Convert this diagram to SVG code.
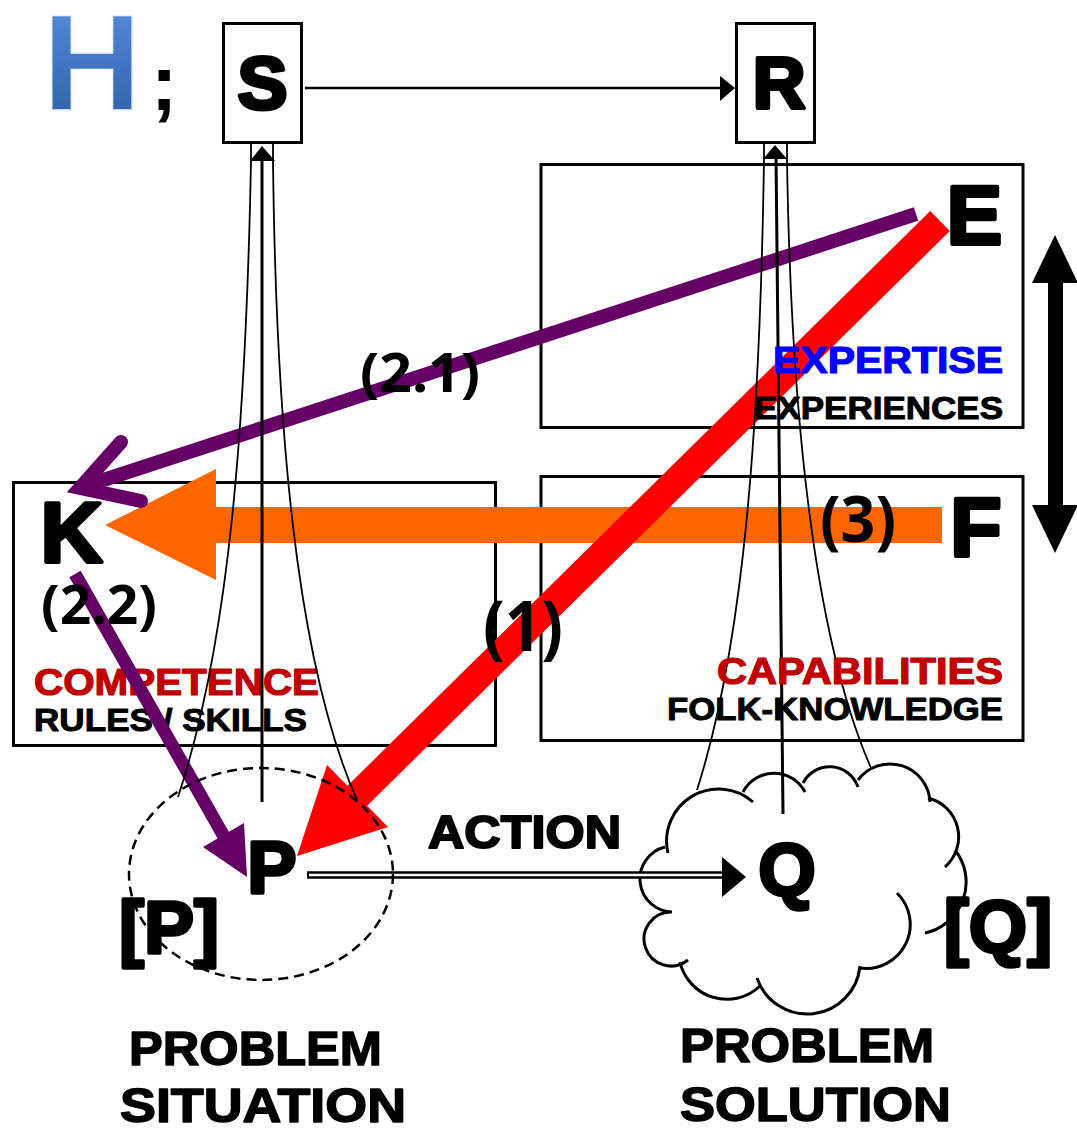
<svg xmlns="http://www.w3.org/2000/svg" width="1077" height="1130" viewBox="0 0 1077 1130">
<defs>
<linearGradient id="hg" x1="0" y1="0" x2="0" y2="1">
<stop offset="0" stop-color="#5b90dd"/>
<stop offset="1" stop-color="#2a5ca6"/>
</linearGradient>
<style>
.box{fill:none;stroke:#000;stroke-width:3}
.big{font-family:"Liberation Sans",Arial,sans-serif;font-weight:bold;fill:#000;stroke:#000;stroke-linejoin:round;text-anchor:middle}
.lbl{font-family:"Liberation Sans",Arial,sans-serif;font-weight:bold;stroke-linejoin:round}
.num{font-family:"Open Sans","Noto Sans",sans-serif;font-weight:bold;fill:#000}
.thin{fill:none;stroke:#000;stroke-width:1.8}
.mid{fill:none;stroke:#000;stroke-width:3}
</style>
</defs>
<rect width="1077" height="1130" fill="#fff"/>

<g id="title">
<text x="92" y="110" font-family="Liberation Sans,Arial,sans-serif" font-weight="bold" font-size="137" fill="url(#hg)" stroke="#eef2fa" stroke-width="1.5" text-anchor="middle">H</text>
<text x="164" y="110" font-family="Liberation Sans,Arial,sans-serif" font-weight="bold" font-size="80" fill="#000" text-anchor="middle">;</text>
</g>

<g id="node-K">
<rect class="box" x="13.5" y="482.5" width="482" height="263"/>
<text class="lbl" x="34" y="695" font-size="37" fill="#c00000" stroke="#c00000" stroke-width="1.2" textLength="285" lengthAdjust="spacingAndGlyphs">COMPETENCE</text>
<text class="lbl" x="34" y="731" font-size="32" fill="#000" stroke="#000" stroke-width="1" textLength="273" lengthAdjust="spacingAndGlyphs">RULES / SKILLS</text>
</g>
<g id="node-E">
<rect class="box" x="541" y="164.5" width="482" height="263"/>
</g>
<g id="node-F">
<rect class="box" x="541" y="476.5" width="482" height="264"/>
</g>

<g id="node-Q-cloud">
<path fill="#fff" stroke="none" d="M668,853 A52,52 0 0 1 753,802 L743,792 A35,35 0 0 1 805,792 L803,783 A30,30 0 0 1 858,787 L858,780 A40,40 0 0 1 930,802 L928,798 A40,40 0 0 1 945,867 L955,850 A52,52 0 0 1 925,933 L897,893 A44,44 0 0 1 860,968 L860,966 A53,53 0 0 1 757,978 L760,986 A48,48 0 0 1 680,962 L688,960 A27,27 0 1 1 672,912 L672,912 A33,33 0 0 1 665,847 Z"/>
<path fill="none" stroke="#000" stroke-width="3" d="M668,853 A52,52 0 0 1 753,802 M743,792 A35,35 0 0 1 805,792 M803,783 A30,30 0 0 1 858,787 M858,780 A40,40 0 0 1 930,802 M928,798 A40,40 0 0 1 945,867 M955,850 A52,52 0 0 1 925,933 M897,893 A44,44 0 0 1 860,968 M860,966 A53,53 0 0 1 757,978 M760,986 A48,48 0 0 1 680,962 M688,960 A27,27 0 1 1 672,912 M672,912 A33,33 0 0 1 665,847"/>
</g>

<g id="connectors">
<!-- (3) orange -->
<rect x="210" y="507" width="732" height="36" fill="#ff6600"/>
<polygon points="216,469 216,580 105,525" fill="#ff6600"/>
<!-- (1) red -->
<line x1="940" y1="221" x2="352" y2="801" stroke="#ff0000" stroke-width="28"/>
<polygon points="327,765 388,827 297,856" fill="#ff0000"/>
<!-- (2.1) purple -->
<line x1="916" y1="214" x2="82" y2="487" stroke="#660066" stroke-width="14"/>
<polyline points="121,442 80,488 141,501" fill="none" stroke="#660066" stroke-width="14" stroke-linecap="round" stroke-linejoin="miter"/>
<!-- (2.2) purple -->
<line x1="75" y1="574" x2="226" y2="840" stroke="#660066" stroke-width="13"/>
<polygon points="203,847 244,823 247,877" fill="#660066"/>
<!-- S lines -->
<path class="thin" d="M251,144 L251,161 C246,420 230,640 178,797"/>
<path class="thin" d="M273,144 L273,161 C276,420 295,660 357,800"/>
<line class="mid" x1="262" y1="802" x2="262" y2="158"/>
<polygon points="262,146 275,161 250,161" fill="#000"/>
<!-- R lines -->
<path class="thin" d="M764,144 L764,159 C760,420 745,640 697,790"/>
<path class="thin" d="M787,144 L787,159 C791,420 815,640 871,768"/>
<line class="mid" x1="783" y1="814" x2="776" y2="156"/>
<polygon points="775,145 787,159 763,159" fill="#000"/>
<!-- S to R -->
<line x1="305" y1="88" x2="722" y2="88" stroke="#000" stroke-width="2.5"/>
<polygon points="735,88 720,76 720,101" fill="#000"/>
<!-- ACTION -->
<line x1="307" y1="875" x2="726" y2="875" stroke="#000" stroke-width="7.5"/>
<line x1="309" y1="875" x2="724" y2="875" stroke="#fff" stroke-width="2.5"/>
<polygon points="746,877 722,857 722,897" fill="#000"/>
<!-- double arrow -->
<polygon points="1055,235 1078,283 1063,283 1063,505 1078,505 1055,553 1032,505 1048,505 1048,283 1032,283" fill="#000"/>
</g>

<g id="node-P">
<ellipse cx="261" cy="874" rx="132" ry="106" fill="none" stroke="#000" stroke-width="2.5" stroke-dasharray="10 6"/>
<text class="big" x="272" y="893" font-size="74" stroke-width="3.5">P</text>
<text class="big" x="169" y="953" font-size="75" stroke-width="3.5">[P]</text>
</g>

<g id="node-Q">
<text class="big" x="787" y="895" font-size="74" stroke-width="3.5">Q</text>
<text class="big" x="998" y="952" font-size="75" stroke-width="3.5">[Q]</text>
</g>

<g id="node-S">
<rect class="box" x="223.5" y="23.5" width="78" height="119" fill="#fff"/>
<text class="big" x="262.5" y="109" font-size="75" stroke-width="4">S</text>
</g>
<g id="node-R">
<rect class="box" x="736.5" y="23.5" width="78" height="119" fill="#fff"/>
<text class="big" x="779" y="108" font-size="73" stroke-width="4">R</text>
</g>

<g id="labels">
<text class="big" x="71.5" y="562" font-size="86" stroke-width="4">K</text>
<text class="big" x="974.5" y="244" font-size="83" stroke-width="4">E</text>
<text class="big" x="976" y="556" font-size="84" stroke-width="4">F</text>
<text class="lbl" x="773" y="373" font-size="36" fill="#0000ff" stroke="#0000ff" stroke-width="1.2" textLength="230" lengthAdjust="spacingAndGlyphs">EXPERTISE</text>
<text class="lbl" x="754" y="419" font-size="32" fill="#000" stroke="#000" stroke-width="1" textLength="249" lengthAdjust="spacingAndGlyphs">EXPERIENCES</text>
<text class="lbl" x="717" y="684" font-size="37" fill="#c00000" stroke="#c00000" stroke-width="1.2" textLength="286" lengthAdjust="spacingAndGlyphs">CAPABILITIES</text>
<text class="lbl" x="667" y="720" font-size="32" fill="#000" stroke="#000" stroke-width="1" textLength="336" lengthAdjust="spacingAndGlyphs">FOLK-KNOWLEDGE</text>
<text class="num" x="360" y="392" font-size="54" textLength="120" lengthAdjust="spacingAndGlyphs">(2.1)</text>
<text class="num" x="41" y="624" font-size="54" textLength="116" lengthAdjust="spacingAndGlyphs">(2.2)</text>
<text class="num" x="483" y="651" font-size="70" textLength="80" lengthAdjust="spacingAndGlyphs">(1)</text>
<text class="num" x="820" y="542" font-size="64" textLength="76" lengthAdjust="spacingAndGlyphs">(3)</text>
<text class="lbl" x="428" y="848" font-size="47" fill="#000" stroke="#000" stroke-width="2" textLength="193" lengthAdjust="spacingAndGlyphs">ACTION</text>
<text class="lbl" x="129" y="1065" font-size="48" fill="#000" stroke="#000" stroke-width="1.5" textLength="253" lengthAdjust="spacingAndGlyphs">PROBLEM</text>
<text class="lbl" x="120" y="1122" font-size="48" fill="#000" stroke="#000" stroke-width="1.5" textLength="286" lengthAdjust="spacingAndGlyphs">SITUATION</text>
<text class="lbl" x="680" y="1062" font-size="48" fill="#000" stroke="#000" stroke-width="1.5" textLength="254" lengthAdjust="spacingAndGlyphs">PROBLEM</text>
<text class="lbl" x="680" y="1121" font-size="48" fill="#000" stroke="#000" stroke-width="1.5" textLength="271" lengthAdjust="spacingAndGlyphs">SOLUTION</text>
</g>
</svg>
